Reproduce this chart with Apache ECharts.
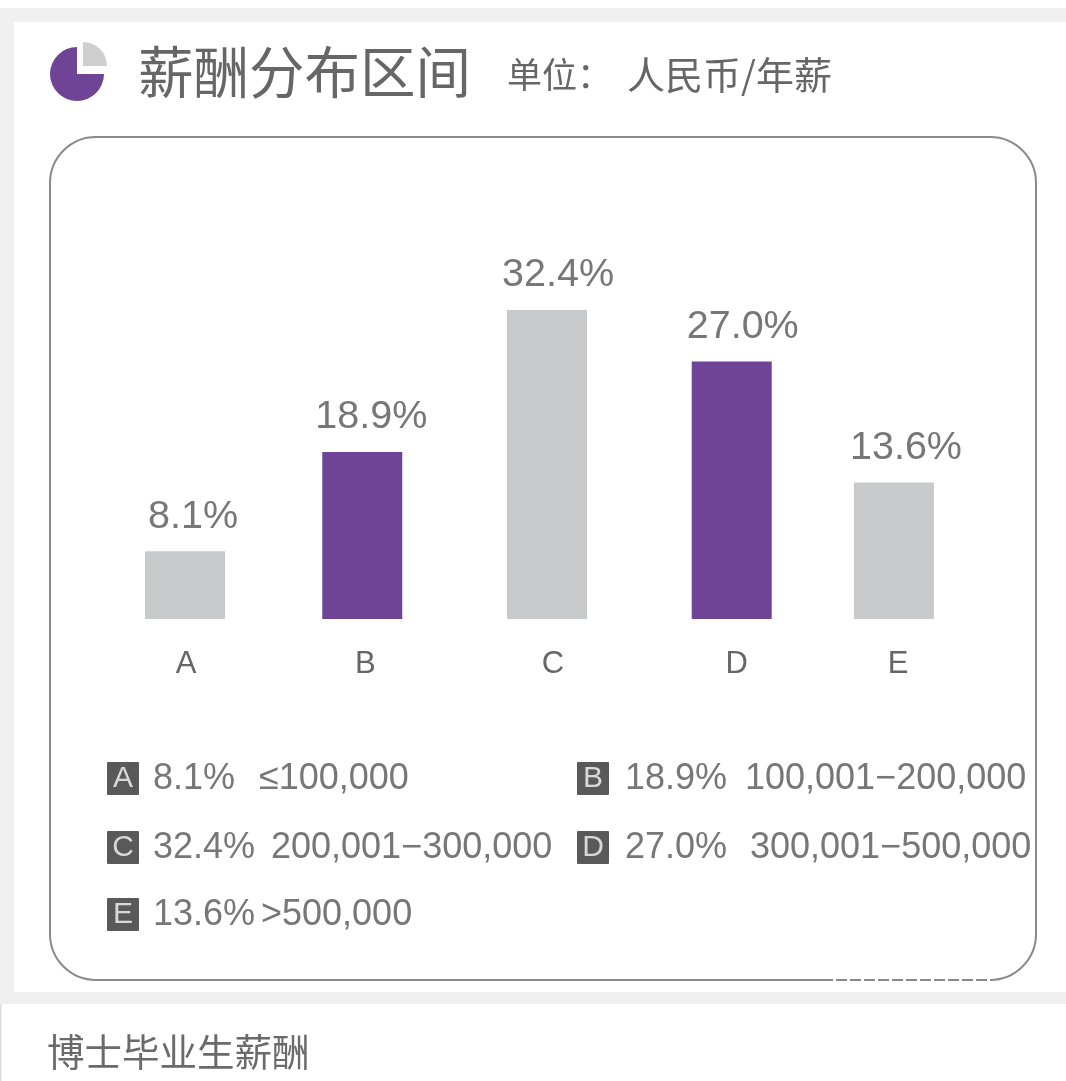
<!DOCTYPE html>
<html><head><meta charset="utf-8">
<style>html,body{margin:0;padding:0;background:#fff}#c{width:1066px;height:1081px;filter:blur(0.7px)}</style>
<script src="https://cdn.jsdelivr.net/npm/echarts@6/dist/echarts.min.js"></script>
</head><body><div id="c"></div>
<script>
// ---- data ----
const categories = ['A','B','C','D','E'];
const percentLabels = ['8.1%','18.9%','32.4%','27.0%','13.6%'];
const barHeights = [7.1, 17.5, 32.4, 27.0, 14.3]; // drawn bar heights as they appear, on the scale of bar C
const ranges = ['≤100,000','100,001−200,000','200,001−300,000','300,001−500,000','>500,000'];
const titleText = '薪酬分布区间';
const unitLabel = '单位：';
const unitText = '人民币/年薪';
const captionText = '博士毕业生薪酬';

// ---- style ----
const GREY='#c8c9ca', PURPLE='#6f4396', TXT='#777', DARK='#666';
const SANS='"Liberation Sans",Arial,sans-serif', CJK='"Noto Sans CJK SC",sans-serif';
const barFill=[GREY,PURPLE,GREY,PURPLE,GREY];
const barNudge=[0,0,7.5,15,0], labelNudge=[8,9,11,11,12], tickNudge=[1,3,13.5,20,4];
const legendPos=[
 {sq:107,pct:153,rng:259,y:779},{sq:577,pct:625,rng:745,y:779},
 {sq:107,pct:153,rng:271,y:848},{sq:577,pct:625,rng:750,y:848},
 {sq:107,pct:153,rng:261,y:915}];

const graphics=[
 {type:'rect',z:-10,shape:{x:0,y:8,width:1066,height:996},style:{fill:'#f0f0f0'}},
 {type:'rect',z:-9,shape:{x:14,y:22,width:1052,height:970},style:{fill:'#fff'}},
 {type:'rect',z:-9,shape:{x:0,y:1004,width:1.5,height:77},style:{fill:'#ddd'}},
 {type:'rect',z:-8,shape:{x:50,y:137,width:986,height:843,r:46},style:{fill:'#fff',stroke:'#8a8a8a',lineWidth:2}},
 {type:'line',z:-7,shape:{x1:833,y1:980,x2:1000,y2:980},style:{stroke:'#fff',lineWidth:3,lineDash:[3,11]}},
 {type:'sector',shape:{cx:77,cy:74,r:27,r0:0,startAngle:0,endAngle:Math.PI*1.5},style:{fill:PURPLE}},
 {type:'sector',shape:{cx:83,cy:66,r:24,r0:0,startAngle:-Math.PI/2,endAngle:0},style:{fill:'#cfcfcf'}},
 {type:'text',x:138,y:72,style:{text:titleText,font:'55.5px '+CJK,fill:DARK,textVerticalAlign:'middle'}},
 {type:'text',x:507,y:75,style:{text:unitLabel,font:'35px '+CJK,fill:DARK,textVerticalAlign:'middle'}},
 {type:'text',x:627,y:75,style:{text:unitText,font:'38px '+CJK,fill:DARK,textVerticalAlign:'middle'}},
 {type:'text',x:47,y:1052,style:{text:captionText,font:'37.5px '+CJK,fill:'#6a6a6a',textVerticalAlign:'middle'}}
];
categories.forEach((c,i)=>{
 const p=legendPos[i];
 graphics.push(
  {type:'rect',shape:{x:p.sq,y:p.y-17,width:32,height:33,r:1},style:{fill:'#595959'}},
  {type:'text',x:p.sq+16,y:p.y,style:{text:c,font:'30px '+SANS,fill:'#d8d8d8',textAlign:'center',textVerticalAlign:'middle'}},
  {type:'text',x:p.pct,y:p.y,style:{text:percentLabels[i],font:'36px '+SANS,fill:TXT,textVerticalAlign:'middle'}},
  {type:'text',x:p.rng,y:p.y,style:{text:ranges[i],font:'36px '+SANS,fill:TXT,textVerticalAlign:'middle'}}
 );
});

const rich={};
categories.forEach((c,i)=>{rich['t'+i]={fontFamily:SANS,fontSize:31,color:DARK,padding:[0,0,0,2*tickNudge[i]]};});

const chart=echarts.init(document.getElementById('c'));
chart.setOption({
 animation:false,
 backgroundColor:'#fff',
 graphic:graphics,
 grid:{left:96.4,right:83.4,top:142,bottom:462},
 xAxis:{type:'category',data:categories,axisLine:{show:false},axisTick:{show:false},splitLine:{show:false},
  axisLabel:{interval:0,margin:30,formatter:(v)=>`{t${categories.indexOf(v)}|${v}}`,rich}},
 yAxis:{type:'value',min:0,max:50,show:false},
 series:[{type:'custom',data:barHeights.map((h,i)=>[i,h]),encode:{x:0,y:1},
  renderItem(params,api){
   const i=api.value(0), top=api.coord([i,api.value(1)]), base=api.coord([i,0]);
   const cx=top[0]+barNudge[i];
   return {type:'group',children:[
    {type:'rect',shape:{x:cx-40,y:top[1],width:80,height:base[1]-top[1]},style:{fill:barFill[i]}},
    {type:'text',x:cx+labelNudge[i],y:top[1]-34.5,style:{text:percentLabels[i],font:'39.5px '+SANS,fill:TXT,textAlign:'center',textVerticalAlign:'middle'}}
   ]};
  }}]
});
</script></body></html>
